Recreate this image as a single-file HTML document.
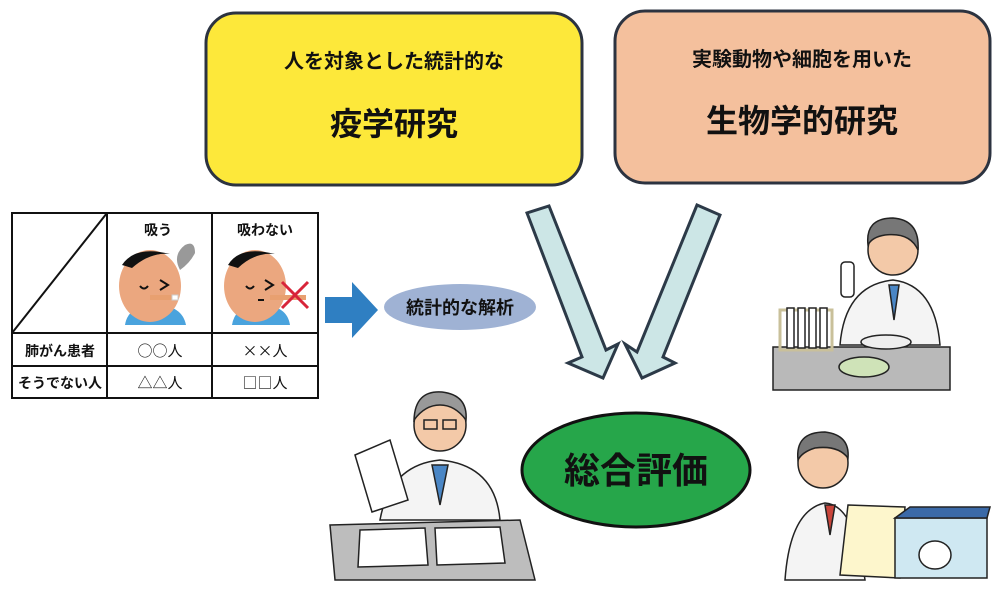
<!DOCTYPE html>
<html><head><meta charset="utf-8"><style>
html,body{margin:0;padding:0;background:#fff;}
svg{display:block;font-family:"Liberation Sans","Noto Sans CJK JP",sans-serif;}
.j{font-family:"Noto Sans CJK JP",sans-serif;}
</style></head><body>
<svg width="996" height="592" viewBox="0 0 996 592" xmlns="http://www.w3.org/2000/svg">
<rect x="206" y="13" width="376" height="172" rx="30" fill="#fde83a" stroke="#2c3340" stroke-width="3"/>
<text x="394" y="68" font-size="20" font-weight="bold" text-anchor="middle" fill="#111">人を対象とした統計的な</text>
<text x="394" y="135" font-size="32" font-weight="bold" text-anchor="middle" fill="#111">疫学研究</text>
<rect x="615" y="11" width="375" height="172" rx="30" fill="#f4c09d" stroke="#2c3340" stroke-width="3"/>
<text x="802" y="66" font-size="20" font-weight="bold" text-anchor="middle" fill="#111">実験動物や細胞を用いた</text>
<text x="802" y="132" font-size="32" font-weight="bold" text-anchor="middle" fill="#111">生物学的研究</text>

<g stroke="#111" stroke-width="2" fill="none">
<rect x="12" y="213" width="306" height="185"/>
<line x1="107" y1="213" x2="107" y2="398"/>
<line x1="212" y1="213" x2="212" y2="398"/>
<line x1="12" y1="333" x2="318" y2="333"/>
<line x1="12" y1="366" x2="318" y2="366"/>
<line x1="12" y1="333" x2="107" y2="213"/>
</g>
<text x="158" y="235" font-size="14" font-weight="bold" text-anchor="middle" fill="#111">吸う</text>
<text x="265" y="235" font-size="14" font-weight="bold" text-anchor="middle" fill="#111">吸わない</text>
<path d="M125 325 Q128 305 155 305 Q182 305 186 325 Z" fill="#4aa3dd"/>
<ellipse cx="150" cy="286" rx="31" ry="36" fill="#eba77f"/>
<path d="M122 265 Q135 245 170 254 Q150 252 132 268 Z" fill="#111"/>
<path d="M140 286 q4 5 8 0 M160 280 l8 5 l-8 5" stroke="#111" stroke-width="2" fill="none"/>
<rect x="150" y="295" width="28" height="5" fill="#e8a070"/><rect x="172" y="295" width="6" height="5" fill="#fff" stroke="#ccc"/>
<path d="M180 270 q-8 -15 5 -25 q10 -5 10 8 q-5 10 -15 17" fill="#999"/>
<path d="M232 325 Q235 305 260 305 Q287 305 290 325 Z" fill="#4aa3dd"/>
<ellipse cx="255" cy="286" rx="31" ry="36" fill="#eba77f"/>
<path d="M228 265 Q240 245 275 254 Q255 252 238 268 Z" fill="#111"/>
<path d="M246 286 q4 5 8 0 M265 280 l8 5 l-8 5 M258 300 l6 0" stroke="#111" stroke-width="2" fill="none"/>
<rect x="270" y="295" width="36" height="5" fill="#e8a070"/>
<path d="M282 282 l26 26 M308 282 l-26 26" stroke="#d8253a" stroke-width="3"/>
<text x="60" y="356" font-size="14" font-weight="bold" text-anchor="middle" fill="#111">肺がん患者</text>
<text x="160" y="356" font-size="15" class="j" text-anchor="middle" fill="#111">○○人</text>
<text x="265" y="356" font-size="15" class="j" text-anchor="middle" fill="#111">××人</text>
<text x="60" y="388" font-size="14" font-weight="bold" text-anchor="middle" fill="#111">そうでない人</text>
<text x="160" y="388" font-size="15" class="j" text-anchor="middle" fill="#111">△△人</text>
<text x="265" y="388" font-size="15" class="j" text-anchor="middle" fill="#111">□□人</text>

<polygon points="325,297 352,297 352,282 378,310 352,338 352,323 325,323" fill="#2f7fc2"/>
<ellipse cx="460" cy="307" rx="76" ry="23" fill="#9fb2d4"/>
<text x="460" y="314" font-size="18" font-weight="bold" text-anchor="middle" fill="#111">統計的な解析</text>

<polygon points="527,213 582,357 568,363 603,378 618,344 606,350 549,206" fill="#cce6e6" stroke="#2c3a48" stroke-width="3" stroke-linejoin="miter"/>
<polygon points="697,205 637,352 625,344 642,378 675,363 663,357 720,215" fill="#cce6e6" stroke="#2c3a48" stroke-width="3" stroke-linejoin="miter"/>

<ellipse cx="636" cy="470" rx="114" ry="57" fill="#26a64a" stroke="#111" stroke-width="3"/>
<text x="636" y="483" font-size="36" font-weight="bold" text-anchor="middle" fill="#111">総合評価</text>

<g stroke="#222" stroke-width="1.5">
<path d="M380 520 Q390 465 440 460 Q495 465 500 520 Z" fill="#f4f4f4"/>
<path d="M432 465 l8 40 l8 -40 Z" fill="#4a86c5"/>
<circle cx="440" cy="425" r="26" fill="#f3c9a8"/>
<path d="M414 420 Q415 390 442 392 Q468 395 466 420 Q455 405 440 405 Q425 405 414 420 Z" fill="#999"/>
<rect x="424" y="420" width="13" height="9" fill="none"/><rect x="443" y="420" width="13" height="9" fill="none"/>
<polygon points="355,455 390,440 408,500 372,512" fill="#fff"/>
<polygon points="330,525 520,520 535,580 335,580" fill="#bdbdbd"/>
<polygon points="360,530 425,528 428,565 358,567" fill="#fff"/>
<polygon points="435,528 500,527 505,563 437,565" fill="#fff"/>
</g>

<g stroke="#222" stroke-width="1.5">
<path d="M840 345 Q845 285 893 280 Q935 285 940 345 Z" fill="#f4f4f4"/>
<path d="M889 285 l5 35 l5 -35 Z" fill="#4a86c5"/>
<circle cx="893" cy="250" r="25" fill="#f3c9a8"/>
<path d="M868 245 Q865 218 893 218 Q920 220 918 250 Q910 232 885 235 Q872 237 868 245 Z" fill="#777"/>
<rect x="841" y="262" width="13" height="35" rx="4" fill="#fff"/>
<rect x="773" y="347" width="177" height="43" fill="#b9b9b9"/>
<rect x="780" y="310" width="52" height="40" fill="none" stroke="#c9c09a" stroke-width="3"/>
<rect x="787" y="308" width="7" height="40" fill="#fff"/><rect x="798" y="308" width="7" height="40" fill="#fff"/><rect x="809" y="308" width="7" height="40" fill="#fff"/><rect x="820" y="308" width="7" height="40" fill="#fff"/>
<ellipse cx="864" cy="367" rx="25" ry="10" fill="#cfe3b8"/>
<ellipse cx="886" cy="342" rx="25" ry="7" fill="#eee"/>
</g>

<g stroke="#222" stroke-width="1.5">
<path d="M785 580 Q790 510 825 503 Q855 505 865 580 Z" fill="#f4f4f4"/>
<path d="M825 505 l5 30 l5 -30 Z" fill="#c9443a"/>
<circle cx="823" cy="463" r="25" fill="#f3c9a8"/>
<path d="M798 460 Q795 432 825 432 Q850 435 848 458 Q838 445 815 448 Q802 452 798 460 Z" fill="#777"/>
<polygon points="848,505 905,507 900,578 840,575" fill="#fdf6cc"/>
<rect x="895" y="518" width="92" height="60" fill="#cfe8f2"/>
<polygon points="895,518 910,507 990,507 987,518" fill="#3b6aa8"/>
<ellipse cx="935" cy="555" rx="16" ry="14" fill="#fff"/>
</g>
</svg>
</body></html>
